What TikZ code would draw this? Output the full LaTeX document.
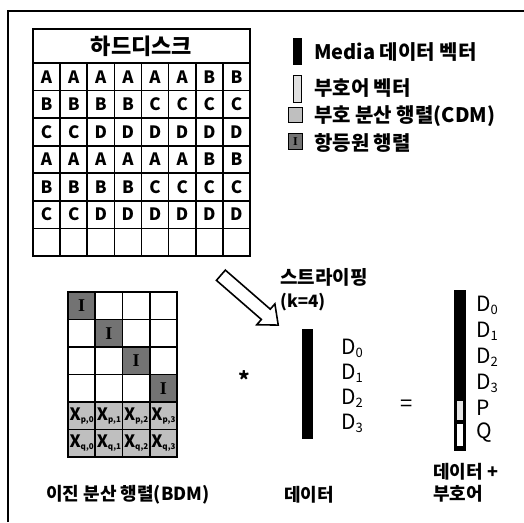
\documentclass[tikz,border=0pt]{standalone}
\usepackage{fontspec}
\setmainfont{Noto Sans CJK KR}
\newfontfamily\serifI{Liberation Serif}
\usetikzlibrary{shapes.arrows}
\newcommand{\fs}[1]{\fontsize{#1}{#1}\selectfont}
\begin{document}
\begin{tikzpicture}[x=1pt,y=-1pt,
  hcell/.style={draw, line width=1.6pt, minimum width=27.1pt, minimum height=27.57pt, inner sep=0pt, font=\bfseries\fs{17}},
  bcell/.style={draw, line width=1.8pt, minimum width=27.25pt, minimum height=27.5pt, inner sep=0pt, font=\bfseries\fs{17}},
  idfill/.style={fill=black!55},
  cdmfill/.style={fill=black!25},
  lbl/.style={font=\bfseries\fs{18}, inner sep=0pt},
  leg/.style={font=\bfseries\fs{20}, inner sep=0pt, anchor=west},
  dlbl/.style={font=\fs{21}, inner sep=0pt, anchor=west},
]
\useasboundingbox (0,0) rectangle (524,522);
% outer frame (left and top edges visible)
\coordinate (fbl) at (8,522);
\coordinate (ftl) at (8,11);
\coordinate (ftr) at (524,11);
\draw[line width=1.5pt] (fbl) -- (ftl) -- (ftr);

% hard disk table
\node[draw, line width=1.6pt, minimum width=217pt, minimum height=34pt, inner sep=0pt, font=\bfseries\fs{22}] (hdd) at (141.5,46) {하드디스크};
\foreach \row [count=\r from 0] in {{A,A,A,A,A,A,B,B},{B,B,B,B,C,C,C,C},{C,C,D,D,D,D,D,D},{A,A,A,A,A,A,B,B},{B,B,B,B,C,C,C,C},{C,C,D,D,D,D,D,D},{,,,,,,,}} {
  \foreach \ch [count=\c from 0] in \row {
    \node[hcell] (h-\r-\c) at ({33+27.125*(\c+0.5)},{63+27.57*(\r+0.5)}) {\ch};
  }
}

% legend
\node[fill=black, minimum width=9pt, minimum height=27pt, inner sep=0pt] (lg1) at (297.5,51.5) {};
\node[leg] (lt1) at (314,52) {Media 데이터 벡터};
\node[draw, line width=1.6pt, fill=black!12, minimum width=8pt, minimum height=27pt, inner sep=0pt] (lg2) at (297.5,89) {};
\node[leg] (lt2) at (314,88) {부호어 벡터};
\node[draw, line width=1.6pt, cdmfill, minimum width=14pt, minimum height=15pt, inner sep=0pt] (lg3) at (295.5,115) {};
\node[leg] (lt3) at (314,116) {부호 분산 행렬(CDM)};
\node[draw, line width=1.6pt, idfill, minimum width=14pt, minimum height=16pt, inner sep=0pt, font=\serifI\bfseries\fs{12}] (lg4) at (295.5,141.5) {I};
\node[leg] (lt4) at (314,143) {항등원 행렬};

% striping arrow
\node[single arrow, draw, line width=1.6pt, fill=white, rotate=-41, minimum height=76pt, minimum width=26pt, inner sep=6pt, single arrow head extend=7pt, single arrow tip angle=80] (arr) at (246.5,297.5) {};
\node[lbl, font=\bfseries\fs{19}, anchor=west] (st1) at (280,277) {스트라이핑};
\node[font=\bfseries\fs{17}, inner sep=0pt, anchor=west] (st2) at (280,302) {(k=4)};

% BDM matrix
\foreach \r in {0,...,3} {
  \foreach \c in {0,...,3} {
    \ifnum\r=\c
      \node[bcell, idfill, font=\serifI\bfseries\fs{18}] (b-\r-\c) at ({68+27.25*(\c+0.5)},{292+27.5*(\r+0.5)}) {I};
    \else
      \node[bcell] (b-\r-\c) at ({68+27.25*(\c+0.5)},{292+27.5*(\r+0.5)}) {};
    \fi
  }
}
\foreach \c in {0,...,3} {
  \node[bcell, cdmfill] (b-4-\c) at ({68+27.25*(\c+0.5)},{292+27.5*(4.5)}) {X\raisebox{-2pt}{\fs{8}p,\c}};
  \node[bcell, cdmfill] (b-5-\c) at ({68+27.25*(\c+0.5)},{292+27.5*(5.5)}) {X\raisebox{-2pt}{\fs{8}q,\c}};
}
\node[lbl] (bdm) at (128,495) {이진 분산 행렬(BDM)};

% multiply
\node[font=\bfseries\fs{22}, inner sep=0pt] (mul) at (244,380) {*};

% data vector
\node[fill=black, minimum width=11pt, minimum height=110pt, inner sep=0pt] (data) at (307.5,384) {};
\node[dlbl] (d0) at (341,348) {D\raisebox{-3pt}{\fs{13}0}};
\node[dlbl] (d1) at (341,373) {D\raisebox{-3pt}{\fs{13}1}};
\node[dlbl] (d2) at (341,398) {D\raisebox{-3pt}{\fs{13}2}};
\node[dlbl] (d3) at (341,423) {D\raisebox{-3pt}{\fs{13}3}};
\node[lbl] (datal) at (309,495) {데이터};

% equals
\node[font=\fs{22}, inner sep=0pt] (eq) at (407,406) {=};

% result vector
\node[fill=black, minimum width=12pt, minimum height=161pt, inner sep=0pt] (res) at (460,370.5) {};
\node[fill=black!10, minimum width=6pt, minimum height=19pt, inner sep=0pt] (pbox) at (460,410) {};
\node[draw, line width=0.6pt, fill=white, minimum width=7pt, minimum height=23pt, inner sep=0pt] (qbox) at (460,435) {};
\node[dlbl] (r0) at (476,305) {D\raisebox{-3pt}{\fs{13}0}};
\node[dlbl] (r1) at (476,331) {D\raisebox{-3pt}{\fs{13}1}};
\node[dlbl] (r2) at (476,357) {D\raisebox{-3pt}{\fs{13}2}};
\node[dlbl] (r3) at (476,383) {D\raisebox{-3pt}{\fs{13}3}};
\node[dlbl] (rp) at (476,408) {P};
\node[dlbl] (rq) at (476,433) {Q};
\node[lbl, anchor=west] (resl1) at (433,472) {데이터 +};
\node[lbl, anchor=west] (resl2) at (433,494) {부호어};
\end{tikzpicture}
\end{document}
